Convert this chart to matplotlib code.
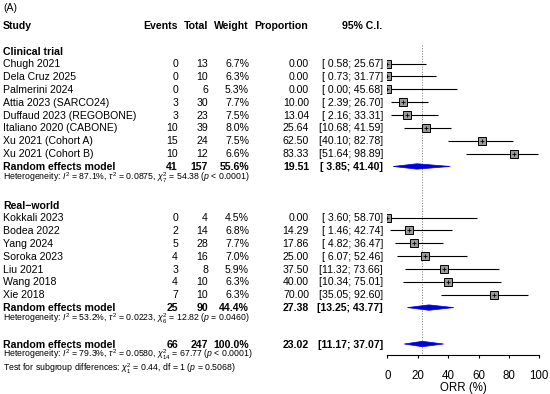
import numpy as np
import matplotlib
matplotlib.use("Agg")
import matplotlib.pyplot as plt
from matplotlib.patches import Polygon

plt.rcParams['font.family'] = ['Liberation Sans', 'DejaVu Sans']
plt.rcParams['mathtext.fontset'] = 'custom'
plt.rcParams['mathtext.rm'] = 'Liberation Sans'
plt.rcParams['mathtext.it'] = 'Liberation Sans:italic'
plt.rcParams['mathtext.bf'] = 'Liberation Sans:bold'

# dane - badania kliniczne
clin_studies = ["Chugh 2021", "Dela Cruz 2025", "Palmerini 2024", "Attia 2023 (SARCO24)",
                "Duffaud 2023 (REGOBONE)", "Italiano 2020 (CABONE)", "Xu 2021 (Cohort A)",
                "Xu 2021 (Cohort B)"]
clin_events = [0, 0, 0, 3, 3, 10, 15, 10]
clin_total = [13, 10, 6, 30, 23, 39, 24, 12]
clin_weight = [6.7, 6.3, 5.3, 7.7, 7.5, 8.0, 7.5, 6.6]
clin_prop = [0.00, 0.00, 0.00, 10.00, 13.04, 25.64, 62.50, 83.33]
clin_lo = [0.58, 0.73, 0.00, 2.39, 2.16, 10.68, 40.10, 51.64]
clin_hi = [25.67, 31.77, 45.68, 26.70, 33.31, 41.59, 82.78, 98.89]

# dane - real-world
rw_studies = ["Kokkali 2023", "Bodea 2022", "Yang 2024", "Soroka 2023", "Liu 2021",
              "Wang 2018", "Xie 2018"]
rw_events = [0, 2, 5, 4, 3, 4, 7]
rw_total = [4, 14, 28, 16, 8, 10, 10]
rw_weight = [4.5, 6.8, 7.7, 7.0, 5.9, 6.3, 6.3]
rw_prop = [0.00, 14.29, 17.86, 25.00, 37.50, 40.00, 70.00]
rw_lo = [3.60, 1.46, 4.82, 6.07, 11.32, 10.34, 35.05]
rw_hi = [58.70, 42.74, 36.47, 52.46, 73.66, 75.01, 92.60]

# modele losowe: events, total, weight, est, lo, hi
clin_model = (41, 157, 55.6, 19.51, 3.85, 41.40)
rw_model = (25, 90, 44.4, 27.38, 13.25, 43.77)
all_model = (66, 247, 100.0, 23.02, 11.17, 37.07)

clin_het = r"Heterogeneity: $I^2$ = 87.1%, $\tau^2$ = 0.0875, $\chi^2_7$ = 54.38 ($p$ < 0.0001)"
rw_het = r"Heterogeneity: $I^2$ = 53.2%, $\tau^2$ = 0.0223, $\chi^2_6$ = 12.82 ($p$ = 0.0460)"
all_het = r"Heterogeneity: $I^2$ = 79.3%, $\tau^2$ = 0.0580, $\chi^2_{14}$ = 67.77 ($p$ < 0.0001)"
subgroup_test = r"Test for subgroup differences: $\chi^2_1$ = 0.44, df = 1 ($p$ = 0.5068)"

xticks = [0, 20, 40, 60, 80, 100]

W, H = 550, 394
fig = plt.figure(figsize=(W / 100, H / 100), dpi=100)
tx = fig.add_axes([0, 0, 1, 1])
tx.set_xlim(0, W)
tx.set_ylim(H, 0)
tx.axis('off')

AX_L, AX_R, AX_B = 387.3, 539.3, 355
fa = fig.add_axes([AX_L / W, (H - AX_B) / H, (AX_R - AX_L) / W, AX_B / H])
fa.set_xlim(0, 100)
fa.set_ylim(AX_B, 0)
fa.patch.set_alpha(0)
for s in ['top', 'right', 'left']:
    fa.spines[s].set_visible(False)
fa.spines['bottom'].set_bounds(0, 100)
fa.spines['bottom'].set_linewidth(0.8)
fa.set_yticks([])
fa.set_xticks(xticks)
fa.tick_params(axis='x', length=2.5, width=0.8, pad=8, labelsize=8.3)
fa.set_xlabel("ORR (%)", fontsize=8.3, labelpad=0)

FS = 7.6
FS_SMALL = 6.3
CAP = 3.6
HET_OFF = 14.3
X_STUDY, X_EV, X_TOT, X_W, X_P, X_CI = 3, 178, 208, 249, 309, 383


def row_text(y, name, ev, tot, w, p, lo, hi, bold=False):
    fw = 'bold' if bold else 'normal'
    yb = y + CAP
    tx.text(X_STUDY, yb, name, fontsize=FS, fontweight=fw, va='baseline')
    tx.text(X_EV, yb, f"{ev}", fontsize=FS, fontweight=fw, va='baseline', ha='right')
    tx.text(X_TOT, yb, f"{tot}", fontsize=FS, fontweight=fw, va='baseline', ha='right')
    tx.text(X_W, yb, f"{w:.1f}%", fontsize=FS, fontweight=fw, va='baseline', ha='right')
    tx.text(X_P, yb, f"{p:.2f}", fontsize=FS, fontweight=fw, va='baseline', ha='right')
    tx.text(X_CI, yb, f"[{lo:5.2f}; {hi:5.2f}]", fontsize=FS, fontweight=fw,
            va='baseline', ha='right')


def study_mark(y, p, lo, hi):
    fa.plot([min(lo, p), hi], [y, y], color='black', lw=0.8, solid_capstyle='butt', zorder=3)
    fa.plot([p], [y], marker='s', ms=5.2, mfc='#9a9a9a', mec='black', mew=0.7, zorder=4)
    fa.plot([p], [y], marker='+', ms=2.6, color='black', mew=0.6, zorder=5)


def diamond(y, est, lo, hi, h=2.7):
    fa.add_patch(Polygon([(lo, y), (est, y - h), (hi, y), (est, y + h)], closed=True,
                         facecolor='#0000dd', edgecolor='#0000dd', lw=0.5, zorder=4))


# naglowki
tx.text(3, 7.5 + CAP, "(A)", fontsize=FS, va='baseline')
hy = 25 + CAP
tx.text(X_STUDY, hy, "Study", fontsize=FS, fontweight='bold', va='baseline')
tx.text(X_EV, hy, "Events", fontsize=FS, fontweight='bold', va='baseline', ha='right')
tx.text(X_TOT, hy, "Total", fontsize=FS, fontweight='bold', va='baseline', ha='right')
tx.text(X_W, hy, "Weight", fontsize=FS, fontweight='bold', va='baseline', ha='right')
tx.text(X_P - 1, hy, "Proportion", fontsize=FS, fontweight='bold', va='baseline', ha='right')
tx.text(X_CI - 1, hy, "95% C.I.", fontsize=FS, fontweight='bold', va='baseline', ha='right')

STEP = 12.87


def group(y_title, title, names, ev, tot, w, p, lo, hi, model, het):
    tx.text(X_STUDY, y_title + CAP, title, fontsize=FS, fontweight='bold', va='baseline')
    y = y_title + 12
    for i in range(len(names)):
        row_text(y, names[i], ev[i], tot[i], w[i], p[i], lo[i], hi[i])
        study_mark(y, p[i], lo[i], hi[i])
        y += STEP
    row_text(y, "Random effects model", *model, bold=True)
    diamond(y, model[3], model[4], model[5])
    tx.text(X_STUDY, y + HET_OFF, het, fontsize=FS_SMALL, va='baseline')


group(51.5, "Clinical trial", clin_studies, clin_events, clin_total, clin_weight,
      clin_prop, clin_lo, clin_hi, clin_model, clin_het)
group(205.5, "Real\u2212world", rw_studies, rw_events, rw_total, rw_weight,
      rw_prop, rw_lo, rw_hi, rw_model, rw_het)

y_all = 344.0
row_text(y_all, "Random effects model", *all_model, bold=True)
diamond(y_all, all_model[3], all_model[4], all_model[5])
tx.text(X_STUDY, y_all + 13.8, all_het, fontsize=FS_SMALL, va='baseline')
tx.text(X_STUDY, y_all + 13.8 + 13.2, subgroup_test, fontsize=FS_SMALL, va='baseline')

# linia efektu calkowitego
fa.plot([all_model[3], all_model[3]], [45, AX_B], color='#888888', lw=0.7,
        ls=(0, (1.2, 1.5)), zorder=1)

fig.savefig("out.png", dpi=100)
